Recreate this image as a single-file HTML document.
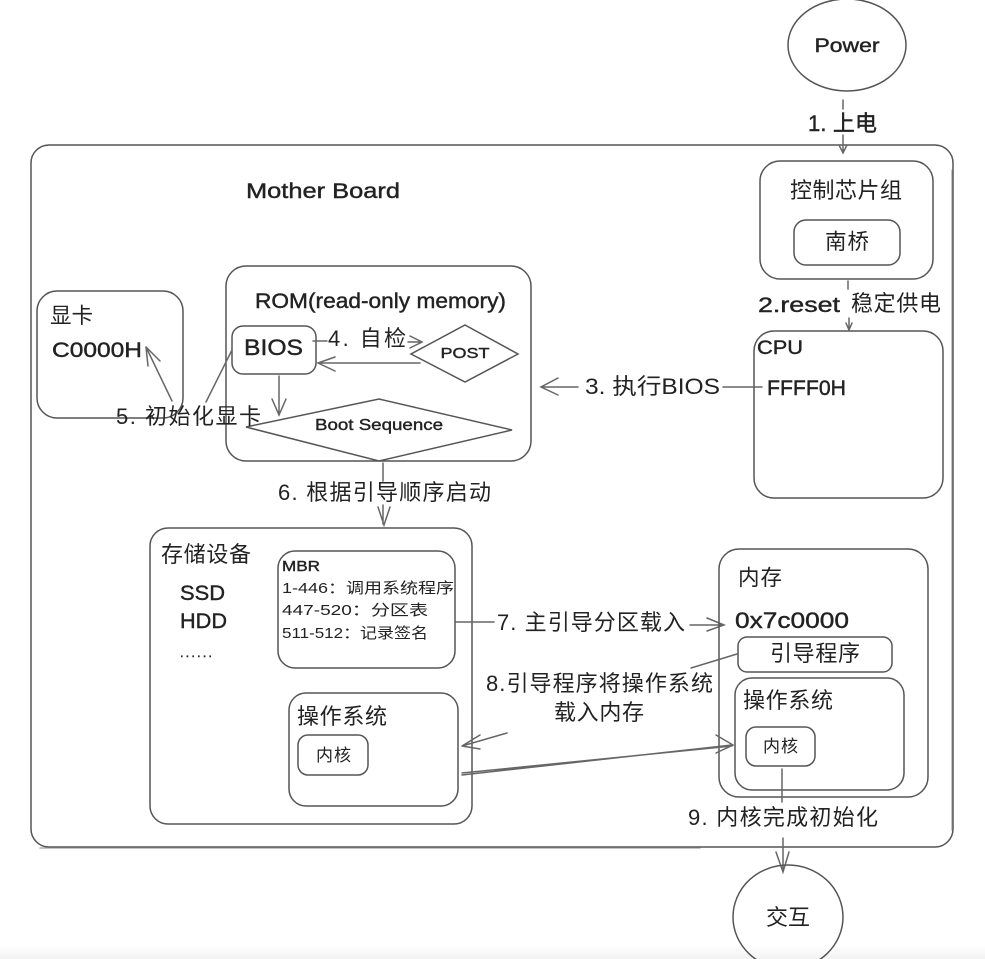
<!DOCTYPE html>
<html><head><meta charset="utf-8"><style>
html,body{margin:0;padding:0;background:#fff;width:985px;height:959px;overflow:hidden}
svg{display:block;filter:blur(.3px)}
text{font-family:"Liberation Sans","Noto Sans CJK SC",sans-serif;fill:#222}
.b{fill:none;stroke:#555;stroke-width:1.5}
.l{fill:none;stroke:#666;stroke-width:1.5;stroke-linecap:round}
.h{stroke:#222;stroke-width:.4}
</style></head><body>
<svg width="985" height="959" viewBox="0 0 985 959" xmlns="http://www.w3.org/2000/svg">
<defs><linearGradient id="g" x1="0" y1="0" x2="0" y2="1"><stop offset="0" stop-color="#fff"/><stop offset="1" stop-color="#f1f1f1"/></linearGradient></defs>
<rect width="985" height="959" fill="#fff"/>
<rect y="945" width="985" height="14" fill="url(#g)"/>

<rect class="b" x="31" y="145" width="922" height="702" rx="18"/>
<path class="l" d="M952 170V830M40 848H700" stroke-opacity=".5"/>

<ellipse class="b" cx="847" cy="45" rx="59" ry="46"/>
<text class="h" x="847" y="52" font-size="19" text-anchor="middle" textLength="65" lengthAdjust="spacingAndGlyphs">Power</text>
<path class="l" d="M843 100V109M843 135V152M839 145L843 153L847 145"/>
<text class="h" x="808" y="131" font-size="22" textLength="69">1. 上电</text>

<text class="h" x="246" y="198" font-size="21" textLength="154" lengthAdjust="spacingAndGlyphs">Mother Board</text>

<rect class="b" x="760" y="161" width="173" height="118" rx="20"/>
<text x="790" y="198" font-size="22" textLength="112">控制芯片组</text>
<rect class="b" x="794" y="220" width="106" height="45" rx="12"/>
<text x="825" y="249" font-size="21.5" textLength="44">南桥</text>
<path class="l" d="M848 281V289M849 318V329M846 323L849 330L852 323"/>
<text class="h" x="758" y="312" font-size="21" textLength="82" lengthAdjust="spacingAndGlyphs">2.reset</text>
<text x="851" y="311" font-size="22" textLength="90">稳定供电</text>

<rect class="b" x="754" y="331" width="189" height="167" rx="20"/>
<text class="h" x="757" y="354" font-size="19" textLength="46" lengthAdjust="spacingAndGlyphs">CPU</text>
<text class="h" x="767" y="395" font-size="21" textLength="79" lengthAdjust="spacingAndGlyphs">FFFF0H</text>
<path class="l" d="M723 387H762M541 387H578M558 378L541 387L558 395"/>
<text x="585" y="394" font-size="22" textLength="135" lengthAdjust="spacingAndGlyphs">3. 执行BIOS</text>

<rect class="b" x="226" y="266" width="305" height="195" rx="20"/>
<text class="h" x="255" y="308" font-size="21" textLength="251" lengthAdjust="spacingAndGlyphs">ROM(read-only memory)</text>
<rect class="b" x="232" y="326" width="84" height="48" rx="11"/>
<text class="h" x="244" y="355" font-size="22" textLength="59" lengthAdjust="spacingAndGlyphs">BIOS</text>
<path class="l" d="M313 341H327M408 342H421M410 336L422 342L410 348"/>
<text x="328" y="346" font-size="22" textLength="78">4. 自检</text>
<polygon class="b" points="465,325 518,354 465,382 411,354"/>
<text class="h" x="465" y="358" font-size="15" text-anchor="middle" textLength="49" lengthAdjust="spacingAndGlyphs">POST</text>
<path class="l" d="M420 363H318M335 357L318 363L335 371"/>
<path class="l" d="M279 376V414M272 399L279 415L286 399"/>
<polygon class="b" points="379,399 512,430 379,461 246,427"/>
<text class="h" x="379" y="430" font-size="16" text-anchor="middle" textLength="128" lengthAdjust="spacingAndGlyphs">Boot Sequence</text>

<rect class="b" x="37" y="291" width="146" height="127" rx="20"/>
<text x="50" y="323" font-size="21.5" textLength="43">显卡</text>
<text class="h" x="52" y="357" font-size="21.5" textLength="90" lengthAdjust="spacingAndGlyphs">C0000H</text>
<path class="l" d="M172 401L146 347M146 347L148 366M146 347L160 361M206 402L232 350"/>
<text x="116" y="424" font-size="22" textLength="145">5. 初始化显卡</text>

<path class="l" d="M383 463V481M383 505V524M378 507L384 525L390 507"/>
<text x="278" y="500" font-size="22" textLength="213">6. 根据引导顺序启动</text>

<rect class="b" x="150" y="528" width="322" height="296" rx="18"/>
<text x="161" y="562" font-size="22" textLength="90">存储设备</text>
<text class="h" x="180" y="600" font-size="21" textLength="45" lengthAdjust="spacingAndGlyphs">SSD</text>
<text class="h" x="180" y="628" font-size="21" textLength="47" lengthAdjust="spacingAndGlyphs">HDD</text>
<text class="h" x="180" y="657" font-size="13" textLength="32">......</text>
<rect class="b" x="278" y="551" width="177" height="117" rx="17"/>
<g font-size="15">
<text class="h" x="282" y="571" textLength="38" lengthAdjust="spacingAndGlyphs">MBR</text>
<text x="282" y="593" textLength="172" lengthAdjust="spacingAndGlyphs">1-446：调用系统程序</text>
<text x="282" y="615" textLength="146" lengthAdjust="spacingAndGlyphs">447-520：分区表</text>
<text x="282" y="638" textLength="146" lengthAdjust="spacingAndGlyphs">511-512：记录签名</text>
</g>
<rect class="b" x="289" y="693" width="169" height="113" rx="17"/>
<text x="297" y="724" font-size="22" textLength="90">操作系统</text>
<rect class="b" x="298" y="735" width="70" height="40" rx="10"/>
<text x="316" y="761" font-size="17" textLength="35">内核</text>

<path class="l" d="M456 622H494M690 625H722M707 618L724 625L707 631"/>
<text x="497" y="630" font-size="22" textLength="188">7. 主引导分区载入</text>

<rect class="b" x="719" y="549" width="209" height="248" rx="20"/>
<text x="738" y="585" font-size="21.5" textLength="44">内存</text>
<text class="h" x="735" y="628" font-size="22" textLength="114" lengthAdjust="spacingAndGlyphs">0x7c0000</text>
<rect class="b" x="738" y="637" width="154" height="35" rx="9"/>
<text x="770" y="661" font-size="22" textLength="90">引导程序</text>
<rect class="b" x="735" y="678" width="169" height="112" rx="17"/>
<text x="743" y="708" font-size="22" textLength="90">操作系统</text>
<rect class="b" x="746" y="727" width="69" height="39" rx="10"/>
<text x="763" y="752" font-size="17" textLength="35">内核</text>

<path class="l" d="M691 668L737 654"/>
<text x="486" y="691" font-size="22" textLength="227">8.引导程序将操作系统</text>
<text x="554" y="720" font-size="22" textLength="90">载入内存</text>
<path class="l" d="M507 733L462 746M462 746L480 735M462 746L480 749"/>
<path class="l" d="M462 775L732 745M462 773L732 746M716 735L733 745L716 753"/>

<path class="l" d="M782 769V802M783 838V872M776 852L783 872L789 852"/>
<text x="688" y="825" font-size="22" textLength="190">9. 内核完成初始化</text>

<ellipse class="b" cx="788" cy="917" rx="55" ry="52"/>
<text x="766" y="925" font-size="22" textLength="44">交互</text>
</svg>
</body></html>
